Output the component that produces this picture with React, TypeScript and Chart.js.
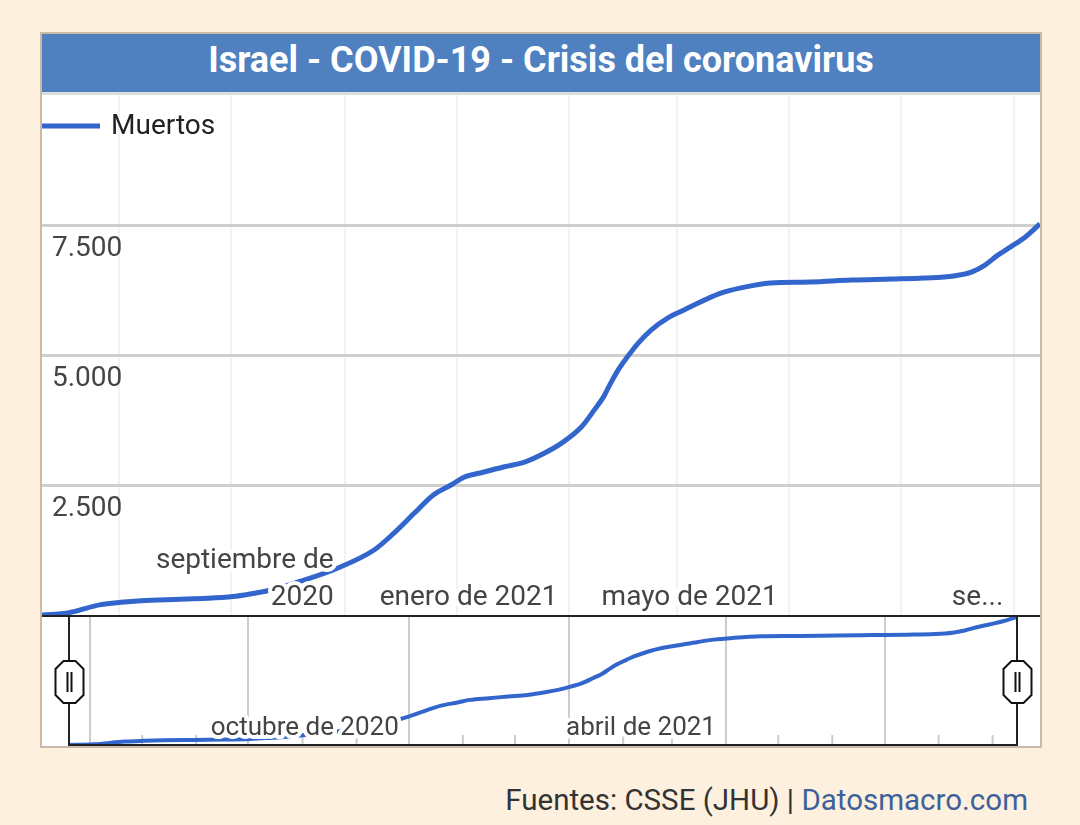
import React, { useEffect, useRef } from 'react';
import { Chart, registerables } from 'chart.js';

Chart.register(...registerables);

// ---------- data ----------
const START_DATE = '2020-03-20';
const seriesName = 'Muertos';
const dates = [
  '2020-03-20', '2020-04-03', '2020-04-21', '2020-05-02', '2020-05-13', '2020-05-31', '2020-06-18', '2020-07-02',
  '2020-07-13', '2020-07-23', '2020-08-08', '2020-08-28', '2020-09-17', '2020-09-28', '2020-10-09', '2020-10-19',
  '2020-10-29', '2020-11-05', '2020-11-16', '2020-11-27', '2020-12-08', '2020-12-19', '2020-12-28', '2021-01-08',
  '2021-01-15', '2021-01-20', '2021-01-24', '2021-01-28', '2021-02-02', '2021-02-08', '2021-02-15', '2021-02-24',
  '2021-03-05', '2021-03-16', '2021-03-25', '2021-04-05', '2021-04-21', '2021-05-13', '2021-06-04', '2021-06-26',
  '2021-07-14', '2021-07-30', '2021-08-09', '2021-08-16', '2021-08-23', '2021-08-30', '2021-09-07', '2021-09-15',
];
const deaths = [
  0, 40, 200, 245, 275, 300, 320, 355,
  415, 480, 650, 900, 1250, 1580, 1960, 2300,
  2500, 2650, 2750, 2850, 2940, 3115, 3300, 3615,
  3940, 4190, 4460, 4710, 4960, 5230, 5480, 5710,
  5865, 6055, 6190, 6290, 6385, 6405, 6440, 6460,
  6480, 6520, 6600, 6730, 6920, 7080, 7270, 7520,
];

const yTicks = [0, 2500, 5000, 7500, 10000];
const mainGridMonths = ['2020-05-01', '2020-07-01', '2020-09-01', '2020-11-01', '2021-01-01', '2021-03-01', '2021-05-01', '2021-07-01', '2021-09-01'];
const mainLabelMonths = ['2020-09-01', '2021-01-01', '2021-05-01', '2021-09-01'];
const mainLabelTexts = [['septiembre de', '2020'], ['enero de 2021'], ['mayo de 2021'], ['se...']];
const navGridMonths = ['2020-04-01', '2020-07-01', '2020-10-01', '2021-01-01', '2021-04-01', '2021-07-01'];
const navMinorMonths = ['2020-05-01', '2020-06-01', '2020-08-01', '2020-09-01', '2020-11-01', '2020-12-01', '2021-02-01', '2021-03-01', '2021-05-01', '2021-06-01', '2021-08-01', '2021-09-01'];
const navLabelMonths = ['2020-10-01', '2021-04-01'];
const navLabelTexts = ['octubre de 2020', 'abril de 2021'];

const titleText = 'Israel - COVID-19 - Crisis del coronavirus';
const sourceText = 'Fuentes: CSSE (JHU) | ';
const sourceLink = 'Datosmacro.com';

// ---------- helpers ----------
const dayOf = (s: string) =>
  Math.round((Date.parse(s + 'T00:00:00Z') - Date.parse(START_DATE + 'T00:00:00Z')) / 86400000);
const points = dates.map((d, i) => ({ x: dayOf(d), y: deaths[i] }));
const lastDay = dayOf(dates[dates.length - 1]);
const maxDeaths = Math.max(...deaths);
const fmt = (v: number) => String(v).replace(/\B(?=(\d{3})+(?!\d))/g, '.');

const LINE_COLOR = '#3366cc';
const FONT = 'Roboto, "Noto Sans", sans-serif';
const BG = '#fdf0df';

function haloText(ctx: CanvasRenderingContext2D, text: string, x: number, y: number) {
  ctx.save();
  ctx.lineJoin = 'round';
  ctx.lineWidth = 8;
  ctx.strokeStyle = '#ffffff';
  ctx.strokeText(text, x, y);
  ctx.restore();
  ctx.fillText(text, x, y);
}

const mainDecor = {
  id: 'mainDecor',
  afterDatasetsDraw(chart: any) {
    const ctx: CanvasRenderingContext2D = chart.ctx;
    const xs = chart.scales.x;
    const ys = chart.scales.y;
    const area = chart.chartArea;
    ctx.save();
    ctx.font = `28px ${FONT}`;
    ctx.fillStyle = '#444444';
    ctx.textAlign = 'right';
    ctx.textBaseline = 'alphabetic';
    mainLabelMonths.forEach((m, i) => {
      const px = xs.getPixelForValue(dayOf(m)) - 11;
      const lines = mainLabelTexts[i];
      const baseY = area.bottom - 10;
      lines.forEach((t, j) => {
        haloText(ctx, t, px, baseY - (lines.length - 1 - j) * 37);
      });
    });
    ctx.textAlign = 'left';
    yTicks.forEach((v) => {
      if (v === 0 || v === 10000) return;
      const py = ys.getPixelForValue(v);
      ctx.fillText(fmt(v), area.left + 10, py + 31);
    });
    const ds = chart.data.datasets[0];
    ctx.strokeStyle = ds.borderColor;
    ctx.lineWidth = 5;
    ctx.beginPath();
    ctx.moveTo(area.left, 31);
    ctx.lineTo(area.left + 58, 31);
    ctx.stroke();
    ctx.fillStyle = '#222222';
    ctx.textBaseline = 'middle';
    ctx.fillText(ds.label, area.left + 69, 32);
    ctx.restore();
  },
};

function drawHandle(ctx: CanvasRenderingContext2D, cx: number, cy: number) {
  const w = 28, h = 42, c = 8;
  ctx.beginPath();
  ctx.moveTo(cx - w / 2 + c, cy - h / 2);
  ctx.lineTo(cx + w / 2 - c, cy - h / 2);
  ctx.lineTo(cx + w / 2, cy - h / 2 + c);
  ctx.lineTo(cx + w / 2, cy + h / 2 - c);
  ctx.lineTo(cx + w / 2 - c, cy + h / 2);
  ctx.lineTo(cx - w / 2 + c, cy + h / 2);
  ctx.lineTo(cx - w / 2, cy + h / 2 - c);
  ctx.lineTo(cx - w / 2, cy - h / 2 + c);
  ctx.closePath();
  ctx.fillStyle = '#ffffff';
  ctx.fill();
  ctx.lineWidth = 2;
  ctx.strokeStyle = '#111111';
  ctx.stroke();
  ctx.fillStyle = '#111111';
  ctx.fillRect(cx - 3, cy - 10, 2, 20);
  ctx.fillRect(cx + 1, cy - 10, 2, 20);
}

const navDecor = {
  id: 'navDecor',
  beforeDatasetsDraw(chart: any) {
    const ctx: CanvasRenderingContext2D = chart.ctx;
    const xs = chart.scales.x;
    const area = chart.chartArea;
    ctx.save();
    ctx.fillStyle = '#cccccc';
    navMinorMonths.forEach((m) => {
      const px = xs.getPixelForValue(dayOf(m));
      ctx.fillRect(px - 1, area.bottom - 10, 2, 10);
    });
    ctx.restore();
  },
  afterDatasetsDraw(chart: any) {
    const ctx: CanvasRenderingContext2D = chart.ctx;
    const xs = chart.scales.x;
    const area = chart.chartArea;
    const W = chart.width, H = chart.height;
    ctx.save();
    ctx.font = `26px ${FONT}`;
    ctx.fillStyle = '#444444';
    ctx.textAlign = 'right';
    ctx.textBaseline = 'alphabetic';
    navLabelMonths.forEach((m, i) => {
      const px = xs.getPixelForValue(dayOf(m)) - 10;
      haloText(ctx, navLabelTexts[i], px, area.bottom - 10);
    });
    ctx.fillStyle = '#222222';
    ctx.fillRect(0, 0, W, 2);
    ctx.fillRect(area.left, area.bottom - 1, area.right - area.left, 2);
    ctx.fillRect(area.left - 1, 0, 2, H);
    ctx.fillRect(area.right - 1, 0, 2, H);
    drawHandle(ctx, area.left + 0.5, 67);
    drawHandle(ctx, area.right + 0.5, 67);
    ctx.restore();
  },
};

export default function App() {
  const mainRef = useRef<HTMLCanvasElement>(null);
  const navRef = useRef<HTMLCanvasElement>(null);

  useEffect(() => {
    const mainChart = new Chart(mainRef.current as HTMLCanvasElement, {
      type: 'line',
      data: {
        datasets: [{
          label: seriesName,
          data: points,
          borderColor: LINE_COLOR,
          borderWidth: 5,
          pointRadius: 0,
          fill: false,
          cubicInterpolationMode: 'monotone',
        }],
      },
      options: {
        animation: false,
        responsive: false,
        events: [],
        layout: { padding: 0 },
        plugins: { legend: { display: false }, tooltip: { enabled: false } },
        scales: {
          x: {
            type: 'linear',
            min: 0,
            max: lastDay,
            afterBuildTicks: (s: any) => { s.ticks = mainGridMonths.map((m) => ({ value: dayOf(m) })); },
            ticks: { display: false },
            grid: { color: '#f2f2f2', lineWidth: 2, drawTicks: false },
            border: { display: false },
          },
          y: {
            min: 0,
            max: 10000,
            afterBuildTicks: (s: any) => { s.ticks = yTicks.map((v) => ({ value: v })); },
            ticks: { display: false },
            grid: {
              color: (c: any) => (c.tick && (c.tick.value === 0 || c.tick.value === 10000) ? 'rgba(0,0,0,0)' : '#cfcfcf'),
              lineWidth: 3,
              drawTicks: false,
            },
            border: { display: false },
          },
        },
      } as any,
      plugins: [mainDecor],
    });

    const navChart = new Chart(navRef.current as HTMLCanvasElement, {
      type: 'line',
      data: {
        datasets: [{
          label: seriesName,
          data: points,
          borderColor: LINE_COLOR,
          borderWidth: 4,
          pointRadius: 0,
          fill: false,
          cubicInterpolationMode: 'monotone',
        }],
      },
      options: {
        animation: false,
        responsive: false,
        events: [],
        layout: { padding: { left: 27, right: 23, top: 2, bottom: 1 } },
        plugins: { legend: { display: false }, tooltip: { enabled: false } },
        scales: {
          x: {
            type: 'linear',
            min: 0,
            max: lastDay,
            afterBuildTicks: (s: any) => { s.ticks = navGridMonths.map((m) => ({ value: dayOf(m) })); },
            ticks: { display: false },
            grid: { color: '#cccccc', lineWidth: 2, drawTicks: false },
            border: { display: false },
          },
          y: { display: false, min: 0, max: maxDeaths },
        },
      } as any,
      plugins: [navDecor],
    });

    return () => {
      mainChart.destroy();
      navChart.destroy();
    };
  }, []);

  return (
    <div style={{ position: 'absolute', left: 0, top: 0, width: 1080, height: 825, background: BG, fontFamily: FONT, overflow: 'hidden' }}>
      <div style={{ position: 'absolute', left: 40, top: 32, width: 1002, height: 716, border: '2px solid #cbbba6', boxSizing: 'border-box', background: '#ffffff' }}>
        <div style={{ position: 'absolute', left: 0, top: 0, width: 998, height: 58, background: '#4f80c0', color: '#ffffff', fontFamily: FONT, fontWeight: 700, fontSize: 36, lineHeight: '52px', textAlign: 'center', overflow: 'hidden' }}>
          {titleText}
        </div>
        <div style={{ position: 'absolute', left: 0, top: 58, width: 998, height: 3, background: '#dddddd' }} />
        <canvas ref={mainRef} width={998} height={520} style={{ position: 'absolute', left: 0, top: 61, display: 'block' }} />
        <canvas ref={navRef} width={998} height={131} style={{ position: 'absolute', left: 0, top: 581, display: 'block' }} />
      </div>
      <div style={{ position: 'absolute', right: 52, top: 780, height: 40, lineHeight: '40px', fontSize: 29.5, fontFamily: FONT, color: '#333333', whiteSpace: 'nowrap' }}>
        {sourceText}<span style={{ color: '#3d619b' }}>{sourceLink}</span>
      </div>
    </div>
  );
}
